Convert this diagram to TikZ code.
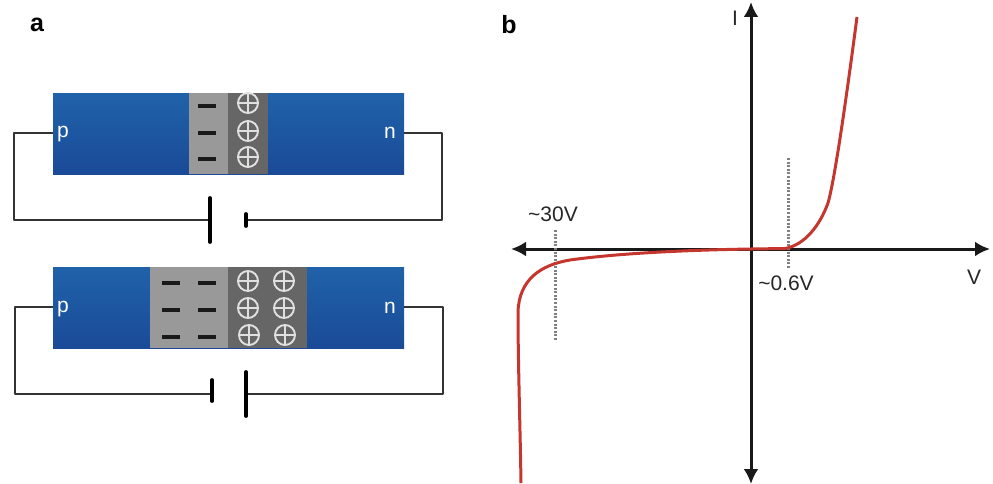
\documentclass[tikz,border=0pt]{standalone}
\usepackage{fontspec}
\setmainfont{Liberation Sans}
\usetikzlibrary{positioning,arrows.meta}
\definecolor{bluetop}{HTML}{2062AA}
\definecolor{bluebot}{HTML}{1A4A98}
\definecolor{lightregion}{HTML}{999999}
\definecolor{darkregion}{HTML}{666666}
\definecolor{wirecol}{HTML}{333333}
\definecolor{curvecol}{HTML}{C5362F}
\begin{document}
\begin{tikzpicture}[
    x=1pt, y=-1pt,
    block/.style={rectangle, inner sep=0pt, minimum height=81pt, anchor=north west},
    blueblock/.style={block, top color=bluetop, bottom color=bluebot, minimum width=351pt},
    lightblock/.style={block, fill=lightregion},
    darkblock/.style={block, fill=darkregion},
    minuscharge/.style={rectangle, fill=black!90, inner sep=0pt, minimum width=18pt, minimum height=3.6pt},
    pluscharge/.style={circle, draw=white!88!black, line width=1.9pt, inner sep=0pt, minimum size=20pt,
        path picture={\draw[white!88!black, line width=1.6pt]
            (path picture bounding box.west) -- (path picture bounding box.east)
            (path picture bounding box.north) -- (path picture bounding box.south);}},
    pinlabel/.style={text=white, font=\fontsize{21}{21}\selectfont},
    panellabel/.style={font=\fontsize{25}{25}\selectfont\bfseries},
    plotlabel/.style={font=\fontsize{21}{21}\selectfont, text=black!85},
    wire/.style={wirecol, line width=2pt, line join=round},
    plate/.style={black, line width=3.8pt, line cap=round},
    axis/.style={black!90, line width=3pt, {Latex[length=15pt,width=15pt]}-{Latex[length=15pt,width=15pt]}},
    guide/.style={black!50, line width=3pt, dash pattern=on 2pt off 1.6pt},
    ]
    \useasboundingbox (0,0) rectangle (993,484);

    % Top junction
    \node[blueblock]                   (top)      at (53,93)  {};
    \node[lightblock, minimum width=39pt] (toplight) at (189,93) {};
    \node[darkblock, minimum width=40pt]  (topdark)  at (228,93) {};
    \node[minuscharge] (topm1) at (207,106) {};
    \node[minuscharge] (topm2) at (207,133) {};
    \node[minuscharge] (topm3) at (207,159) {};
    \node[pluscharge]  (topp1) at (248,103) {};
    \node[pluscharge]  (topp2) at (248,131) {};
    \node[pluscharge]  (topp3) at (248,157) {};
    \node[pinlabel] (topplabel) at (63,134) {p};
    \node[pinlabel] (topnlabel) at (390,133) {n};

    % Bottom junction
    \node[blueblock]                   (bot)      at (53,267) {};
    \node[lightblock, minimum width=78pt] (botlight) at (150,267) {};
    \node[darkblock, minimum width=79pt]  (botdark)  at (228,267) {};
    \node[minuscharge] (botm1) at (171,283) {};
    \node[minuscharge] (botm2) at (207,283) {};
    \node[minuscharge] (botm3) at (171,310) {};
    \node[minuscharge] (botm4) at (207,310) {};
    \node[minuscharge] (botm5) at (171,337) {};
    \node[minuscharge] (botm6) at (207,337) {};
    \node[pluscharge]  (botp1) at (248,281) {};
    \node[pluscharge]  (botp2) at (284,281) {};
    \node[pluscharge]  (botp3) at (248,308) {};
    \node[pluscharge]  (botp4) at (284,308) {};
    \node[pluscharge]  (botp5) at (249,335) {};
    \node[pluscharge]  (botp6) at (285,335) {};
    \node[pinlabel] (botplabel) at (63,309) {p};
    \node[pinlabel] (botnlabel) at (390,308) {n};

    % Batteries
    \coordinate (topleftpin)  at (53,133);
    \coordinate (toprightpin) at (404,133);
    \coordinate (topneg) at (210,220);
    \coordinate (toppos) at (246,220);
    \coordinate (botleftpin)  at (53,307);
    \coordinate (botrightpin) at (404,307);
    \coordinate (botneg) at (212,394);
    \coordinate (botpos) at (246,394);

    %Lines
    \draw[wire] (topleftpin)  -- (14,133)  |- (topneg);
    \draw[wire] (toprightpin) -- (442,133) |- (toppos);
    \draw[wire] (botleftpin)  -- (15,307)  |- (botneg);
    \draw[wire] (botrightpin) -- (443,307) |- (botpos);
    \draw[plate] (210,198) -- (210,242);
    \draw[plate] (246,214) -- (246,226);
    \draw[plate] (212,380) -- (212,401);
    \draw[plate] (246,372) -- (246,416);

    % Panel labels
    \node[panellabel] (panela) at (37,25)  {a};
    \node[panellabel] (panelb) at (509,25) {b};

    % Plot
    \coordinate (vleft)  at (511,249);
    \coordinate (vright) at (990,249);
    \coordinate (itop)   at (751,2);
    \coordinate (ibot)   at (751,484);
    \draw[axis] (vleft) -- (vright);
    \draw[axis] (ibot)  -- (itop);
    \draw[guide] (555,230) -- (555,341);
    \draw[guide] (788,158) -- (788,268);
    \draw[curvecol, line width=3pt, line join=round]
        (521,483) .. controls (520,420) and (518,360) .. (518,312)
        .. controls (519,280) and (540,265) .. (570,260)
        .. controls (620,253) and (690,250) .. (751,249)
        -- (785,248.5)
        .. controls (805,245) and (820,225) .. (828,203)
        .. controls (836,175) and (850,70) .. (857,17);

    \node[plotlabel] (ilabel)    at (735,18)  {I};
    \node[plotlabel] (vlabel)    at (974,277) {V};
    \node[plotlabel] (revlabel)  at (553,214) {\textasciitilde30V};
    \node[plotlabel] (fwdlabel)  at (786,283) {\textasciitilde0.6V};
\end{tikzpicture}
\end{document}
